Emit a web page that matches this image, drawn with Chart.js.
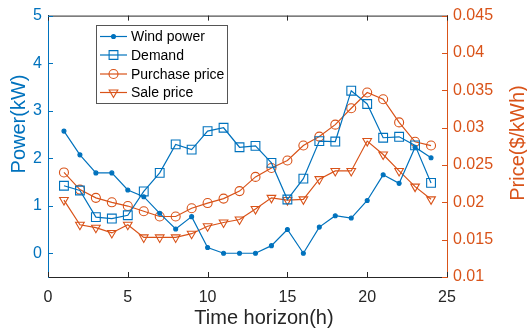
<!DOCTYPE html>
<html>
<head>
<meta charset="utf-8">
<script src="https://cdn.jsdelivr.net/npm/chart.js@4.4.1/dist/chart.umd.min.js"></script>
<style>
  html, body { margin: 0; padding: 0; background: #fff; }
  canvas { display: block; }
</style>
</head>
<body>
<canvas id="chart" width="527" height="333"></canvas>
<script>
const hours = [1, 2, 3, 4, 5, 6, 7, 8, 9, 10, 11, 12, 13, 14, 15, 16, 17, 18, 19, 20, 21, 22, 23, 24];
const windPower = [2.57, 2.07, 1.69, 1.69, 1.33, 1.19, 0.84, 0.51, 0.77, 0.12, 0, 0, 0, 0.16, 0.50, 0, 0.55, 0.79, 0.74, 1.11, 1.65, 1.47, 2.23, 2.01];
const demand = [1.42, 1.32, 0.76, 0.73, 0.80, 1.30, 1.69, 2.29, 2.18, 2.57, 2.64, 2.23, 2.26, 1.90, 1.13, 1.57, 2.36, 2.35, 3.42, 3.14, 2.43, 2.45, 2.27, 1.48];
const purchasePrice = [0.0240, 0.0217, 0.0206, 0.0200, 0.0195, 0.0188, 0.0181, 0.0181, 0.0192, 0.0199, 0.0205, 0.0215, 0.0234, 0.0246, 0.0256, 0.0276, 0.0288, 0.0304, 0.0326, 0.0347, 0.0338, 0.0307, 0.0281, 0.0276];
const salePrice = [0.0203, 0.0170, 0.0166, 0.0159, 0.0170, 0.0153, 0.0153, 0.0153, 0.0158, 0.0168, 0.0173, 0.0177, 0.0191, 0.0206, 0.0203, 0.0204, 0.0231, 0.0242, 0.0242, 0.0282, 0.0264, 0.0242, 0.0221, 0.0204];

const xTicks = [0, 5, 10, 15, 20, 25];
const powerTicks = [0, 1, 2, 3, 4, 5];
const priceTicks = [0.01, 0.015, 0.02, 0.025, 0.03, 0.035, 0.04, 0.045];

const BLUE = "#0072BD";
const ORANGE = "#D95319";
const DARK = "#262626";
const FONT = "'Liberation Sans', Arial, sans-serif";

const pts = (ys) => hours.map((h, i) => ({ x: h, y: ys[i] }));

function series(label, ys, color, axis, style, radius, filled, rotation) {
  return {
    label,
    data: pts(ys),
    yAxisID: axis,
    borderColor: color,
    backgroundColor: filled ? color : "rgba(0,0,0,0)",
    borderWidth: 1.2,
    pointStyle: style,
    pointRadius: radius,
    pointBorderWidth: 1.1,
    pointRotation: rotation || 0,
    tension: 0,
  };
}

const fixTicks = (values) => (scale) => { scale.ticks = values.map((v) => ({ value: v })); };

// inward ticks, top edge, axis titles and the in-plot legend
const frame = {
  id: "frame",
  afterDraw(chart) {
    const { ctx, chartArea: a, scales } = chart;
    const len = 5;
    ctx.save();
    ctx.lineWidth = 1;

    ctx.strokeStyle = DARK;
    ctx.beginPath();
    ctx.moveTo(a.left, a.top + 0.5);
    ctx.lineTo(a.right, a.top + 0.5);
    xTicks.forEach((v) => {
      const px = Math.round(scales.x.getPixelForValue(v)) + 0.5;
      ctx.moveTo(px, a.bottom); ctx.lineTo(px, a.bottom - len);
      ctx.moveTo(px, a.top); ctx.lineTo(px, a.top + len);
    });
    ctx.stroke();

    ctx.strokeStyle = BLUE;
    ctx.beginPath();
    powerTicks.forEach((v) => {
      const py = Math.round(scales.y.getPixelForValue(v)) + 0.5;
      ctx.moveTo(a.left, py); ctx.lineTo(a.left + len, py);
    });
    ctx.stroke();

    ctx.strokeStyle = ORANGE;
    ctx.beginPath();
    priceTicks.forEach((v) => {
      const py = Math.round(scales.y1.getPixelForValue(v)) + 0.5;
      ctx.moveTo(a.right, py); ctx.lineTo(a.right - len, py);
    });
    ctx.stroke();

    // axis titles
    ctx.font = "20px " + FONT;
    ctx.textAlign = "center";
    ctx.textBaseline = "middle";
    ctx.fillStyle = DARK;
    ctx.fillText("Time horizon(h)", 264, 318);
    ctx.save();
    ctx.translate(19, 124);
    ctx.rotate(-Math.PI / 2);
    ctx.fillStyle = BLUE;
    ctx.fillText("Power(kW)", 0, 0);
    ctx.restore();
    ctx.save();
    ctx.translate(518, 143);
    ctx.rotate(-Math.PI / 2);
    ctx.fillStyle = ORANGE;
    ctx.fillText("Price($/kWh)", 0, 0);
    ctx.restore();

    // legend
    const box = { x: 96.5, y: 25.5, w: 131, h: 78 };
    ctx.fillStyle = "#fff";
    ctx.fillRect(box.x, box.y, box.w, box.h);
    ctx.strokeStyle = "#555";
    ctx.strokeRect(box.x, box.y, box.w, box.h);
    const rows = [36.5, 55, 74, 92.5];
    ctx.font = "14px " + FONT;
    ctx.textAlign = "left";
    chart.data.datasets.forEach((ds, i) => {
      const y = rows[i];
      ctx.strokeStyle = ds.borderColor;
      ctx.lineWidth = ds.borderWidth;
      ctx.beginPath();
      ctx.moveTo(100, y); ctx.lineTo(127, y);
      ctx.stroke();
      ctx.fillStyle = ds.backgroundColor;
      ctx.lineWidth = ds.pointBorderWidth;
      Chart.helpers.drawPoint(ctx, {
        pointStyle: ds.pointStyle,
        radius: ds.pointRadius,
        rotation: ds.pointRotation,
        borderWidth: ds.pointBorderWidth,
      }, 113.5, y);
      ctx.fillStyle = "#000";
      ctx.fillText(ds.label, 131, y + 1);
    });
    ctx.restore();
  },
};

new Chart(document.getElementById("chart"), {
  type: "line",
  data: {
    datasets: [
      series("Wind power", windPower, BLUE, "y", "circle", 2, true),
      series("Demand", demand, BLUE, "y", "rect", 6.2, false),
      series("Purchase price", purchasePrice, ORANGE, "y1", "circle", 4.5, false),
      series("Sale price", salePrice, ORANGE, "y1", "triangle", 5, false, 180),
    ],
  },
  options: {
    responsive: false,
    animation: false,
    layout: { padding: { top: 11, left: 0, right: 0, bottom: 0 } },
    plugins: { legend: { display: false }, tooltip: { enabled: false } },
    scales: {
      x: {
        type: "linear",
        min: 0,
        max: 25,
        afterBuildTicks: fixTicks(xTicks),
        afterFit: (s) => { s.height = 56; },
        grid: { display: false, drawTicks: false },
        border: { color: DARK, width: 1 },
        ticks: { color: DARK, padding: 11, font: { family: FONT, size: 16 }, maxRotation: 0 },
      },
      y: {
        position: "left",
        min: -0.5,
        max: 5,
        afterBuildTicks: fixTicks(powerTicks),
        afterFit: (s) => { s.width = 48; },
        grid: { display: false, drawTicks: false },
        border: { color: BLUE, width: 1 },
        ticks: { color: BLUE, padding: 6, font: { family: FONT, size: 16 } },
      },
      y1: {
        position: "right",
        min: 0.01,
        max: 0.045,
        afterBuildTicks: fixTicks(priceTicks),
        afterFit: (s) => { s.width = 80; },
        grid: { display: false, drawTicks: false },
        border: { color: ORANGE, width: 1 },
        ticks: { color: ORANGE, padding: 6, font: { family: FONT, size: 16 }, callback: (v) => String(v) },
      },
    },
  },
  plugins: [frame],
});
</script>
</body>
</html>
